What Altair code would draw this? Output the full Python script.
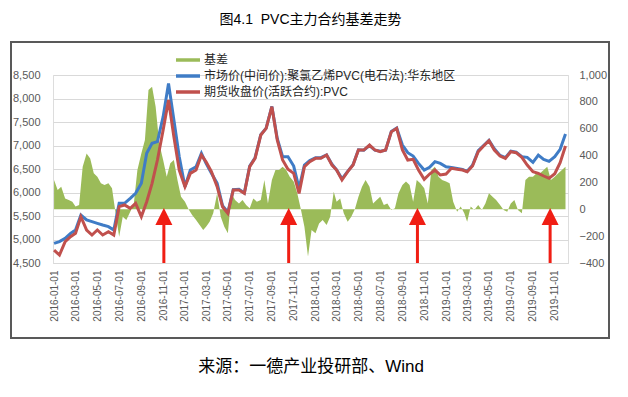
import altair as alt
import pandas as pd

# ---------------- data ----------------
title_text = "图4.1\u00a0\u00a0PVC主力合约基差走势"
source_text = "来源：一德产业投研部、Wind"
series_names = ["基差", "市场价(中间价):聚氯乙烯PVC(电石法):华东地区", "期货收盘价(活跃合约):PVC"]
series_colors = ["#9BBB59", "#3F7CC6", "#C0504D"]

# half-monthly dates 2016-01-01 .. 2019-12-01
line_dates = [f"{y}-{m:02d}-{d}" for y in range(2016, 2020) for m in range(1, 13) for d in ("01", "16")][:95]

spot = [4918, 4954, 5025, 5131, 5202, 5521, 5415, 5379, 5344, 5308, 5273, 5202,
        5769, 5769, 5876, 5982, 6195, 6833, 7046, 7081, 7613, 8322, 7542, 6762,
        6124, 6478, 6549, 6833, 6620, 6407, 6195, 5720, 5580, 6060, 6070, 5990,
        6560, 6740, 7230, 7370, 7830, 7150, 6762, 6762, 6563, 6088, 6585, 6680,
        6740, 6740, 6800, 6600, 6480, 6290, 6450, 6590, 6910, 6900, 7000, 6900,
        6880, 6900, 7300, 7370, 7010, 6847, 6776, 6620, 6478, 6535, 6656, 6620,
        6549, 6530, 6510, 6490, 6450, 6580, 6890, 7000, 7110, 6930, 6790, 6740,
        6880, 6860, 6760, 6748, 6642, 6797, 6705, 6663, 6762, 6918, 7244]

futures = [4776, 4670, 4954, 5060, 5131, 5485, 5202, 5096, 5202, 5096, 5166, 5096,
           5698, 5734, 5663, 5769, 5485, 5805, 6195, 6691, 7330, 7968, 7188, 6478,
           6124, 6407, 6478, 6797, 6655, 6443, 6124, 5698, 5556, 6053, 6053, 5982,
           6549, 6727, 7223, 7365, 7826, 7117, 6691, 6493, 6407, 5982, 6549, 6656,
           6727, 6727, 6797, 6585, 6478, 6266, 6443, 6585, 6904, 6904, 7010, 6904,
           6868, 6904, 7290, 7365, 6904, 6691, 6705, 6478, 6280, 6393, 6478, 6372,
           6393, 6514, 6493, 6478, 6443, 6563, 6869, 6989, 7102, 6904, 6776, 6727,
           6868, 6847, 6748, 6585, 6443, 6407, 6351, 6301, 6400, 6634, 6989]

# basis: three readings per month (01, 11, 21) 2016-01 .. 2019-11, plus 2019-12-01
basis_dates = [f"{y}-{m:02d}-{d}" for y in range(2016, 2020) for m in range(1, 13) for d in ("01", "11", "21")][:142]
basis = [218, 144, 168, 81, 69, 57, 20, 32, 317, 416, 379, 268,
         243, 193, 181, 193, 156, -30, -204, -55, -80, -18, 44, 292,
         416, 516, 888, 913, 764, 491, 367, 243, 342, 367, 218, 94,
         57, 0, -43, -80, -117, -155, -130, -92, -30, 119, -55, -130,
         -179, 119, 69, 44, 69, 32, 7, 81, 57, 69, 218, 44,
         218, 292, 292, 317, 292, 243, 206, 119, 0, -130, -352, -155,
         -179, -105, -80, -117, -55, 131, 57, 81, -30, -92, -55, 0,
         94, 168, 218, 168, 44, 69, 94, 32, 44, -5, 7, 119,
         181, 206, 181, 57, 218, 193, 156, 44, 292, 317, 243, 218,
         206, 193, 57, -18, 20, -30, -92, 20, -5, 32, -5, 44,
         119, 94, 69, 32, -5, -18, 44, 69, -5, -30, 218, 243,
         243, 268, 268, 292, 317, 218, 243, 268, 292, 317]

arrow_dates = ["2016-11-03", "2017-10-18", "2018-10-13", "2019-10-19"]

left_ticks = [4500, 5000, 5500, 6000, 6500, 7000, 7500, 8000, 8500]
right_ticks = [-400, -200, 0, 200, 400, 600, 800, 1000]
x_ticks = [alt.DateTime(year=y, month=m, date=1, utc=True) for y in range(2016, 2020) for m in (1, 3, 5, 7, 9, 11)]

# ---------------- tables ----------------
lines_df = pd.DataFrame({
    "date": line_dates * 2,
    "value": spot + futures,
    "series": [series_names[1]] * len(line_dates) + [series_names[2]] * len(line_dates),
})
basis_df = pd.DataFrame({"date": basis_dates, "basis": basis})
arrow_df = pd.DataFrame({"date": arrow_dates})

FONT = "Liberation Sans, Noto Sans CJK SC"
LABEL_COLOR = "#595959"

xscale = alt.Scale(type="utc",
                   domain=[alt.DateTime(year=2015, month=12, date=29, utc=True),
                           alt.DateTime(year=2019, month=12, date=8, utc=True)])
xaxis = alt.Axis(values=x_ticks, format="%Y-%m-%d", labelAngle=-90, grid=False, ticks=False,
                 domain=True, domainColor="#D9D9D9", labelPadding=7, labelFontSize=10,
                 labelColor=LABEL_COLOR, labelFont=FONT, labelOverlap=False,
                 title=source_text, titleFontSize=17, titleFont=FONT, titleColor="#000000",
                 titleFontWeight="normal", titlePadding=37)
X = alt.X("date:T", scale=xscale, axis=xaxis)

right_scale = alt.Scale(domain=[-400, 1000], nice=False, zero=False)
right_axis = alt.Axis(orient="right", values=right_ticks, format=",.0f", grid=False, domain=False,
                      ticks=False, labelPadding=11, labelFontSize=11, labelColor=LABEL_COLOR,
                      labelFont=FONT, labelOverlap=False, labelBound=False, title=None)
left_scale = alt.Scale(domain=[4500, 8500], nice=False, zero=False)
left_axis = alt.Axis(orient="left", values=left_ticks, format=",.0f", grid=True, gridColor="#D9D9D9",
                     gridWidth=1, domain=False, ticks=False, labelPadding=13, labelFontSize=11,
                     labelColor=LABEL_COLOR, labelFont=FONT, labelOverlap=False, title=None)

area = alt.Chart(basis_df).mark_area(color=series_colors[0], opacity=1, interpolate="linear").encode(
    x=X,
    y=alt.Y("basis:Q", scale=right_scale, axis=right_axis),
    y2=alt.datum(0),
)
shaft = alt.Chart(arrow_df).mark_rule(color="#F01E14", strokeWidth=3).encode(
    x=X, y=alt.YDatum(-400, scale=right_scale, axis=right_axis), y2=alt.datum(-112)
)
head = alt.Chart(arrow_df).mark_point(shape="M0,-1L1,1L-1,1Z", filled=True, size=289,
                                      color="#F01E14", opacity=1).encode(
    x=X, y=alt.YDatum(-54, scale=right_scale, axis=right_axis)
)
basis_group = alt.layer(area, shaft, head)

color = alt.Color("series:N",
                  scale=alt.Scale(domain=series_names, range=series_colors),
                  legend=alt.Legend(orient="none", legendX=129, legendY=-21, title=None,
                                    symbolType="M-3,0H3", symbolSize=64, symbolStrokeWidth=3.5,
                                    labelOffset=10, labelFontSize=12, labelColor="#262626",
                                    labelFont=FONT, labelLimit=500, rowPadding=2))

spot_line = alt.Chart(lines_df).transform_filter(
    alt.datum.series == series_names[1]
).mark_line(strokeWidth=3).encode(
    x=X, y=alt.Y("value:Q", scale=left_scale, axis=left_axis), color=color
)
fut_line = alt.Chart(lines_df).transform_filter(
    alt.datum.series == series_names[2]
).mark_line(strokeWidth=3).encode(
    x=X, y=alt.Y("value:Q", scale=left_scale, axis=left_axis), color=color
)
line_group = alt.layer(spot_line, fut_line)

border = alt.Chart(pd.DataFrame({"a": [0]})).mark_rect(
    filled=False, stroke="#595959", strokeWidth=2
).encode(x=alt.value(-42), x2=alt.value(556), y=alt.value(-33), y2=alt.value(263))

chart = alt.layer(border, basis_group, line_group).resolve_scale(y="independent").properties(
    width=515, height=188,
    autosize=alt.AutoSizeParams(type="none"),
    padding={"left": 45, "top": 67, "right": 52, "bottom": 120},
    title=alt.Title(title_text, fontSize=14, font=FONT, fontWeight="normal", color="#000000",
                    anchor="middle", offset=14),
).configure_view(stroke=None).configure(background="white")

chart.save("out.html", embed_options={"renderer": "svg", "actions": False})
